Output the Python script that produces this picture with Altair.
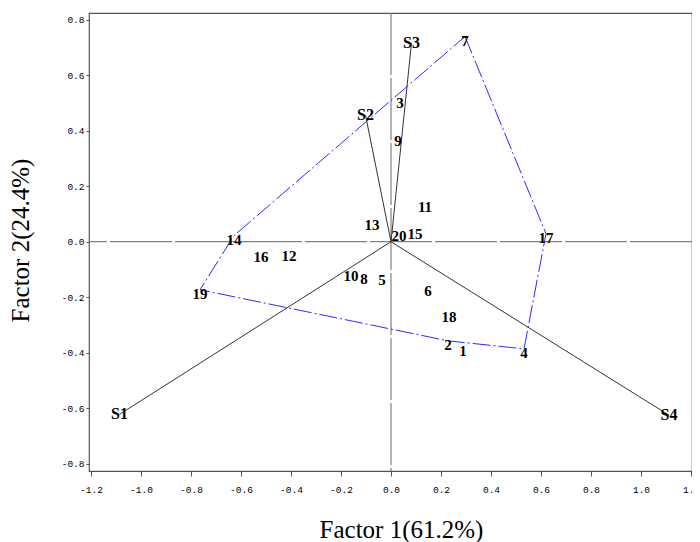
import altair as alt
import pandas as pd

# Observations (factor scores)
obs_labels = [str(i) for i in range(1, 21)]
obs_x = [0.288, 0.228, 0.036, 0.532, -0.036, 0.148, 0.296, -0.108, 0.028, -0.160,
         0.136, -0.408, -0.076, -0.628, 0.096, -0.520, 0.620, 0.232, -0.764, 0.032]
obs_y = [-0.378, -0.357, 0.515, -0.386, -0.123, -0.162, 0.739, -0.119, 0.378, -0.108,
         0.141, -0.036, 0.076, 0.022, 0.043, -0.040, 0.029, -0.256, -0.173, 0.036]

# Variable vectors
var_labels = ["S1", "S2", "S3", "S4"]
var_x = [-1.086, -0.102, 0.082, 1.112]
var_y = [-0.622, 0.456, 0.717, -0.625]

# Convex hull order (observation labels)
hull_order = ["7", "17", "4", "2", "19", "14", "7"]

x_ticks = [-1.2, -1.0, -0.8, -0.6, -0.4, -0.2, 0.0, 0.2, 0.4, 0.6, 0.8, 1.0, 1.2]
y_ticks = [-0.8, -0.6, -0.4, -0.2, 0.0, 0.2, 0.4, 0.6, 0.8]

obs_df = pd.DataFrame({"label": obs_labels, "x": obs_x, "y": obs_y})
var_df = pd.DataFrame({"label": var_labels, "x": var_x, "y": var_y,
                       "x0": [0.0] * 4, "y0": [0.0] * 4})
pos = {l: (x, y) for l, x, y in zip(obs_labels, obs_x, obs_y)}
hull_df = pd.DataFrame({
    "seq": list(range(len(hull_order))),
    "x": [pos[l][0] for l in hull_order],
    "y": [pos[l][1] for l in hull_order],
})

label_expr = "(datum.value < 0 ? '-' : '') + format(abs(datum.value), '.1f')"

xscale = alt.Scale(domain=[-1.208, 1.204], nice=False, zero=False)
yscale = alt.Scale(domain=[-0.826, 0.824], nice=False, zero=False)

X = alt.X("x:Q", scale=xscale, axis=alt.Axis(
    values=x_ticks, labelExpr=label_expr, title="Factor 1(61.2%)",
    titleX=312, titleY=66, titleBaseline="alphabetic", titleAlign="center",
    tickSize=5, labelPadding=8, grid=False, domain=False,
    labelFlush=False, labelOverlap=False, labelBound=False))
Y = alt.Y("y:Q", scale=yscale, axis=alt.Axis(
    values=y_ticks, labelExpr=label_expr, title="Factor 2(24.4%)",
    titleX=-69, titleY=227, titleAngle=270, titleAlign="center", titleBaseline="middle",
    tickSize=3, labelPadding=2, grid=False, domain=False,
    labelFlush=False, labelOverlap=False, labelBound=False))

zero_df = pd.DataFrame({"v": [0.0]})
hline = alt.Chart(zero_df).mark_rule(color="#808080", strokeWidth=1.2, strokeDash=[62, 3]).encode(
    y=alt.Y("v:Q", scale=yscale))
vline = alt.Chart(zero_df).mark_rule(color="#808080", strokeWidth=1.2, strokeDash=[62, 3]).encode(
    x=alt.X("v:Q", scale=xscale))

vectors = alt.Chart(var_df).mark_rule(color="#333333", strokeWidth=1).encode(
    x=alt.X("x0:Q", scale=xscale), y=alt.Y("y0:Q", scale=yscale),
    x2="x:Q", y2="y:Q")

hull = alt.Chart(hull_df).mark_line(color="#2a2aff", strokeWidth=1, strokeDash=[18, 3, 2, 3]).encode(
    x=X, y=Y, order="seq:Q")

obs_text = alt.Chart(obs_df).mark_text(font="Liberation Serif", fontSize=15, fontWeight="bold",
                                       color="black", dy=4, baseline="middle", align="center").encode(
    x=X, y=Y, text="label:N")

var_text = alt.Chart(var_df).mark_text(font="Liberation Serif", fontSize=16, fontWeight="bold",
                                       color="black", baseline="middle", align="center").encode(
    x=X, y=Y, text="label:N")

chart = alt.layer(hline, vline, vectors, hull, obs_text, var_text).properties(
    width=603, height=458,
    autosize=alt.AutoSizeParams(type="none"),
    padding={"left": 81, "top": 5, "right": 0, "bottom": 75},
).configure_view(stroke="#555555", strokeWidth=1.2).configure_axis(
    labelFont="Liberation Mono", labelFontSize=9.5, labelColor="black",
    tickColor="#555555", tickWidth=1,
    titleFont="Liberation Serif", titleFontSize=25, titleFontWeight="normal", titleColor="black",
)

chart.save("out.html", embed_options={"renderer": "svg", "actions": False})
